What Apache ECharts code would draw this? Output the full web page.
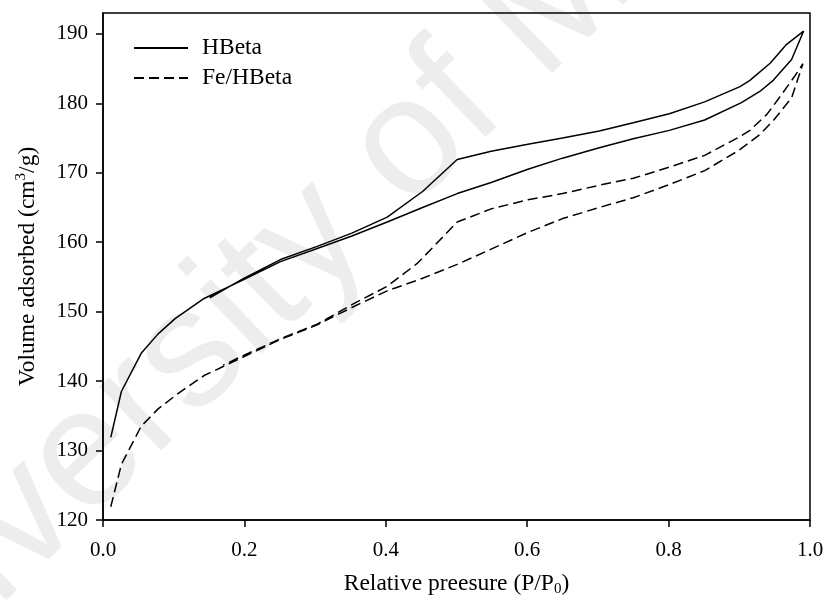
<!DOCTYPE html>
<html>
<head>
<meta charset="utf-8">
<script src="https://cdn.jsdelivr.net/npm/echarts@6/dist/echarts.min.js"></script>
<style>
  html, body { margin: 0; padding: 0; background: #ffffff; }
  #chart { width: 827px; height: 603px; }
</style>
</head>
<body>
<div id="chart"></div>
<script>
// N2 adsorption-desorption isotherms (relative pressure vs. volume adsorbed)

// HBeta: adsorption branch
const hbetaAdsP = [0.011, 0.026, 0.054, 0.078, 0.102, 0.143, 0.199, 0.251, 0.303, 0.352, 0.402, 0.452, 0.501, 0.549, 0.601, 0.650, 0.702, 0.750, 0.801, 0.851, 0.903, 0.929, 0.948, 0.974, 0.991];
const hbetaAdsV = [131.9, 138.5, 144.0, 146.8, 149.0, 151.9, 154.6, 157.2, 159.1, 160.9, 162.9, 165.0, 167.0, 168.6, 170.5, 172.1, 173.6, 174.9, 176.1, 177.6, 180.1, 181.7, 183.3, 186.3, 190.4];
// HBeta: desorption branch
const hbetaDesP = [0.991, 0.966, 0.944, 0.915, 0.901, 0.851, 0.801, 0.750, 0.702, 0.650, 0.601, 0.549, 0.501, 0.452, 0.402, 0.352, 0.303, 0.251, 0.199, 0.151];
const hbetaDesV = [190.4, 188.4, 185.8, 183.3, 182.4, 180.2, 178.5, 177.2, 176.0, 175.0, 174.1, 173.1, 171.9, 167.3, 163.6, 161.3, 159.4, 157.5, 154.8, 152.0];

// Fe/HBeta: adsorption branch
const feAdsP = [0.011, 0.026, 0.054, 0.078, 0.106, 0.143, 0.199, 0.251, 0.303, 0.352, 0.402, 0.452, 0.501, 0.549, 0.601, 0.650, 0.702, 0.750, 0.801, 0.851, 0.899, 0.929, 0.948, 0.974, 0.990];
const feAdsV = [121.9, 128.0, 133.5, 136.0, 138.2, 140.8, 143.5, 146.0, 148.1, 150.6, 153.0, 154.8, 156.8, 159.0, 161.4, 163.4, 165.0, 166.4, 168.3, 170.3, 173.2, 175.5, 177.5, 180.8, 185.7];
// Fe/HBeta: desorption branch
const feDesP = [0.990, 0.979, 0.958, 0.939, 0.915, 0.901, 0.851, 0.801, 0.750, 0.702, 0.650, 0.601, 0.549, 0.501, 0.467, 0.444, 0.401, 0.352, 0.303, 0.251, 0.199, 0.170];
const feDesV = [185.7, 184.0, 181.0, 178.4, 176.1, 175.2, 172.5, 170.8, 169.2, 168.2, 167.0, 166.1, 164.8, 162.9, 159.3, 156.9, 153.6, 151.0, 148.2, 146.1, 143.7, 142.3];

const seriesNames = ['HBeta', 'Fe/HBeta'];
const yTicks = [120, 130, 140, 150, 160, 170, 180, 190];

function pairs(px, vy) {
  return px.map(function (p, i) { return [p, vy[i]]; });
}

const serifFont = '"Liberation Serif", "Times New Roman", serif';

const chart = echarts.init(document.getElementById('chart'), null, { renderer: 'canvas' });

chart.setOption({
  animation: false,
  backgroundColor: '#ffffff',
  textStyle: { fontFamily: serifFont, color: '#000' },
  graphic: [{
    type: 'text',
    x: -130,
    y: 784,
    rotation: 44 * Math.PI / 180,
    silent: true,
    z: -10,
    style: {
      text: 'University of Malaya',
      fontSize: 168,
      fontFamily: '"Liberation Sans", Arial, sans-serif',
      fill: '#ededed',
      align: 'left',
      verticalAlign: 'bottom'
    }
  }],
  grid: {
    left: 103, right: 17, top: 13, bottom: 83,
    show: true,
    borderColor: '#000',
    borderWidth: 1.5,
    backgroundColor: 'transparent'
  },
  legend: {
    data: seriesNames,
    orient: 'vertical',
    left: 128,
    top: 31,
    itemWidth: 54,
    itemHeight: 14,
    itemGap: 6,
    itemStyle: { opacity: 0 },
    textStyle: { fontFamily: serifFont, fontSize: 23.5, color: '#000', padding: [0, 0, 0, 9] }
  },
  xAxis: {
    type: 'value',
    min: 0,
    max: 1,
    interval: 0.2,
    name: 'Relative preesure (P/P{sub|0})',
    nameLocation: 'middle',
    nameGap: 50,
    nameTextStyle: {
      fontFamily: serifFont, fontSize: 23.5, color: '#000', lineHeight: 27,
      rich: { sub: { fontFamily: serifFont, fontSize: 15, lineHeight: 15, verticalAlign: 'bottom', color: '#000' } }
    },
    axisLine: { show: true, lineStyle: { color: '#000', width: 1.5 } },
    axisTick: { show: true, inside: false, length: 7, lineStyle: { color: '#000', width: 1.5 } },
    axisLabel: {
      fontFamily: serifFont, fontSize: 21, color: '#000', margin: 20,
      formatter: function (v) { return v.toFixed(1); }
    },
    splitLine: { show: false }
  },
  yAxis: {
    type: 'value',
    min: 120,
    max: 193,
    interval: 10,
    name: 'Volume adsorbed (cm{sup|3}/g)',
    nameLocation: 'middle',
    nameRotate: 90,
    nameGap: 62,
    nameTextStyle: {
      fontFamily: serifFont, fontSize: 23.5, color: '#000', lineHeight: 27,
      rich: { sup: { fontFamily: serifFont, fontSize: 15, lineHeight: 15, verticalAlign: 'top', color: '#000' } }
    },
    axisLine: { show: true, lineStyle: { color: '#000', width: 1.5 } },
    axisTick: { show: true, inside: false, length: 7, customValues: yTicks, lineStyle: { color: '#000', width: 1.5 } },
    axisLabel: {
      fontFamily: serifFont, fontSize: 21, color: '#000', margin: 15,
      customValues: yTicks
    },
    splitLine: { show: false }
  },
  series: [
    {
      name: seriesNames[0],
      type: 'line',
      data: pairs(hbetaAdsP, hbetaAdsV).concat(pairs(hbetaDesP, hbetaDesV)),
      symbol: 'none',
      smooth: false,
      lineStyle: { color: '#000', width: 1.5, type: 'solid' },
      itemStyle: { color: '#000' }
    },
    {
      name: seriesNames[1],
      type: 'line',
      data: pairs(feAdsP, feAdsV).concat(pairs(feDesP, feDesV)),
      symbol: 'none',
      smooth: false,
      lineStyle: { color: '#000', width: 1.5, type: [10, 5] },
      itemStyle: { color: '#000' }
    }
  ]
});
</script>
</body>
</html>
